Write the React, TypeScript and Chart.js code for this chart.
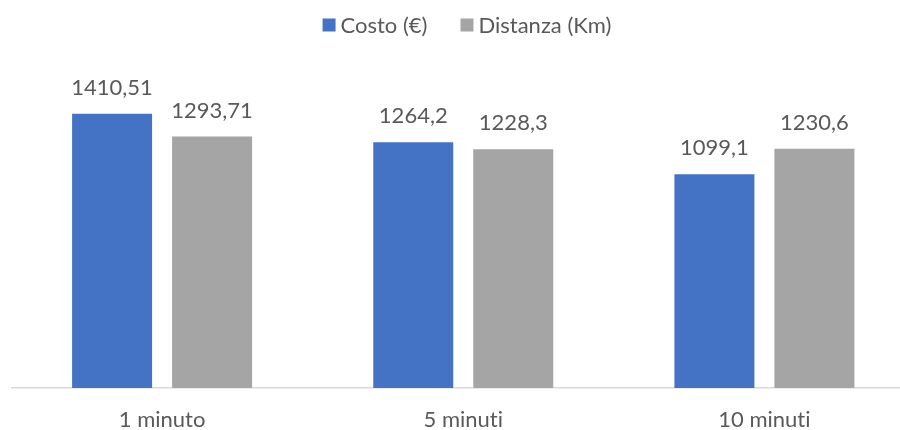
import React, { useEffect, useRef } from "react";
import { Chart, registerables } from "chart.js";

Chart.register(...registerables);

const categories = ["1 minuto", "5 minuti", "10 minuti"];
const costo = [1410.51, 1264.2, 1099.1];
const distanza = [1293.71, 1228.3, 1230.6];
const seriesNames = ["Costo (€)", "Distanza (Km)"];
const seriesColors = ["#4472C4", "#A5A5A5"];

const FONT = "Lato, 'Open Sans', sans-serif";
const TEXT = "#595959";

const fmt = (v: number) => String(v).replace(".", ",");

// plain glyphs (no "ti" ligature) for all canvas text
const plainText = {
  id: "plainText",
  beforeDraw(chart: any) {
    chart.ctx.textRendering = "optimizeSpeed";
  },
};

// value labels above every bar
const valueLabels = {
  id: "valueLabels",
  afterDatasetsDraw(chart: any) {
    const { ctx } = chart;
    ctx.save();
    ctx.font = `22px ${FONT}`;
    ctx.fillStyle = TEXT;
    ctx.textAlign = "center";
    ctx.textBaseline = "alphabetic";
    chart.data.datasets.forEach((ds: any, i: number) => {
      const meta = chart.getDatasetMeta(i);
      meta.data.forEach((bar: any, j: number) => {
        ctx.fillText(fmt(ds.data[j]), bar.x, bar.y - 19);
      });
    });
    ctx.restore();
  },
};

// centered legend row at the top
const topLegend = {
  id: "topLegend",
  afterDraw(chart: any) {
    const { ctx } = chart;
    ctx.save();
    ctx.font = `22px ${FONT}`;
    const box = 13;
    const gapText = 5;
    const gapItem = 33;
    const widths = seriesNames.map((n) => box + gapText + ctx.measureText(n).width);
    const total = widths.reduce((a, b) => a + b, 0) + gapItem * (widths.length - 1);
    let x = 467 - total / 2;
    const cy = 25;
    ctx.textBaseline = "middle";
    ctx.textAlign = "left";
    seriesNames.forEach((n, i) => {
      ctx.fillStyle = seriesColors[i];
      ctx.fillRect(x, cy - box / 2, box, box);
      ctx.fillStyle = TEXT;
      ctx.fillText(n, x + box + gapText, cy + 1);
      x += widths[i] + gapItem;
    });
    ctx.restore();
  },
};

export default function App() {
  const ref = useRef<HTMLCanvasElement>(null);

  useEffect(() => {
    if (!ref.current) return;
    const chart = new Chart(ref.current, {
      type: "bar",
      data: {
        labels: categories,
        datasets: [
          { label: seriesNames[0], data: costo, backgroundColor: seriesColors[0] },
          { label: seriesNames[1], data: distanza, backgroundColor: seriesColors[1] },
        ],
      },
      options: {
        animation: false,
        responsive: true,
        maintainAspectRatio: false,
        datasets: { bar: { categoryPercentage: 0.664, barPercentage: 0.8 } },
        layout: { padding: { top: 77, left: 11.5, right: 0, bottom: 0 } },
        plugins: { legend: { display: false }, tooltip: { enabled: false } },
        scales: {
          x: {
            grid: { display: false, drawTicks: false },
            border: { display: true, color: "#D9D9D9", width: 1.5 },
            ticks: {
              color: TEXT,
              padding: 21,
              font: { family: FONT, size: 22, lineHeight: 1 },
            },
          },
          y: { display: false, min: 0, max: 1600 },
        },
      },
      plugins: [plainText, valueLabels, topLegend],
    });
    return () => chart.destroy();
  }, []);

  return (
    <div
      style={{
        position: "fixed",
        left: 0,
        top: 0,
        width: 900,
        height: 430,
        overflow: "hidden",
        background: "#fff",
      }}
    >
      <div style={{ position: "relative", width: 915, height: 452 }}>
        <canvas ref={ref} />
      </div>
    </div>
  );
}
